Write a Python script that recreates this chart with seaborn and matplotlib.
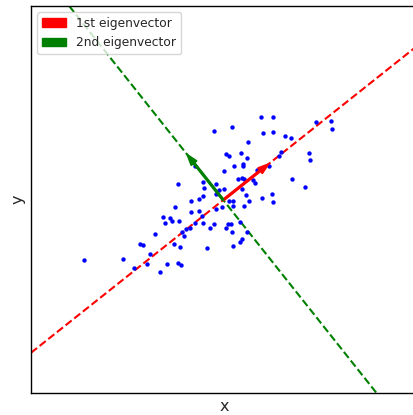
import numpy as np
import matplotlib
matplotlib.use('Agg')
import matplotlib.pyplot as plt
from matplotlib.patches import Patch
import seaborn as sns

# data points
xs = [6.02, 6.40, 4.62, 5.15, 6.10, 6.38, 6.75, 6.93, 5.65, 7.67,
      8.12, 8.16, 4.98, 5.06, 5.42, 5.60, 5.48, 5.50, 5.21, 4.92,
      6.63, 6.56, 7.47, 7.49, 6.26, 5.91, 4.04, 5.34, 5.45, 5.53,
      5.80, 5.86, 6.95, 7.36, 3.53, 4.30, 4.32, 4.67, 4.77, 4.92,
      4.68, 5.47, 5.58, 5.66, 5.53, 6.07, 6.36, 6.40, 4.28, 4.18,
      3.94, 5.06, 5.19, 5.20, 4.85, 3.44, 3.93, 4.16, 4.67, 3.09,
      3.15, 3.29, 3.37, 3.58, 4.06, 4.27, 4.28, 4.50, 4.63, 4.99,
      5.03, 5.14, 5.16, 5.40, 3.66, 3.79, 3.72, 3.89, 2.86, 2.40,
      2.49, 3.42, 3.59, 2.70, 4.41, 5.19, 5.40, 5.45, 0.72, 1.88,
      2.21, 2.60, 3.22, 3.54, 3.64, 3.01, 5.60]
ys = [9.50, 9.50, 9.08, 9.20, 9.00, 9.04, 8.92, 8.87, 8.73, 9.33,
      9.37, 9.14, 8.39, 8.32, 8.42, 8.25, 8.08, 8.03, 8.01, 7.88,
      8.44, 8.32, 8.42, 8.19, 8.01, 7.90, 8.03, 7.62, 7.66, 7.64,
      7.60, 7.52, 7.63, 7.40, 7.48, 7.54, 7.37, 7.49, 7.30, 7.34,
      7.19, 7.34, 7.14, 6.98, 6.83, 7.07, 7.18, 6.95, 7.11, 7.02,
      6.96, 6.96, 6.98, 6.82, 6.78, 6.80, 6.65, 6.68, 6.72, 6.48,
      6.30, 6.46, 6.38, 6.38, 6.30, 6.51, 6.30, 6.15, 6.28, 6.16,
      6.27, 6.27, 6.05, 6.33, 6.05, 6.12, 5.93, 6.16, 5.98, 5.69,
      5.65, 5.69, 5.60, 5.38, 5.56, 5.62, 5.75, 5.82, 5.19, 5.22,
      4.97, 5.08, 5.08, 5.11, 5.06, 4.85, 6.05]

# mean and eigenvectors
center = [4.90, 7.00]
eig1 = [0.783, 0.622]
eig2 = [-0.622, 0.783]
arrow_len = 1.75

sns.set_style('white')
fig = plt.figure(figsize=(4.14, 4.15), dpi=100)
ax = fig.add_axes([0.0749, 0.053, 0.932, 0.9325])

# principal axes as dashed lines
ax.axline(center, slope=eig1[1] / eig1[0], color='red', ls='--', lw=1.5, zorder=1)
ax.axline(center, slope=eig2[1] / eig2[0], color='green', ls='--', lw=1.5, zorder=1)

sns.scatterplot(x=xs, y=ys, color='blue', s=10, linewidth=0, ax=ax, zorder=2)

# eigenvector arrows
ax.arrow(center[0], center[1], eig1[0] * arrow_len, eig1[1] * arrow_len,
         width=0.055, head_width=0.22, head_length=0.34,
         length_includes_head=True, color='red', zorder=3)
ax.arrow(center[0], center[1], eig2[0] * arrow_len, eig2[1] * arrow_len,
         width=0.055, head_width=0.22, head_length=0.34,
         length_includes_head=True, color='green', zorder=3)

ax.set_xlim(-0.87, 10.71)
ax.set_ylim(1.21, 12.82)
ax.set_xticks([])
ax.set_yticks([])
ax.set_xlabel('x', fontsize=11.5)
ax.set_ylabel('y', fontsize=11.5)
for s in ax.spines.values():
    s.set_color('black')
    s.set_linewidth(1)

handles = [Patch(color='red', label='1st eigenvector'),
           Patch(color='green', label='2nd eigenvector')]
ax.legend(handles=handles, loc='upper left', fontsize=8.8)

fig.savefig('out.png', dpi=100)
